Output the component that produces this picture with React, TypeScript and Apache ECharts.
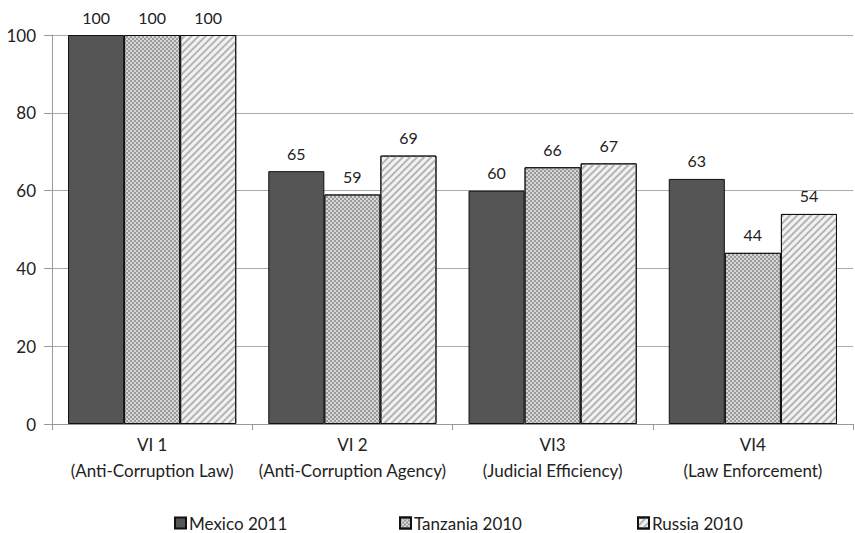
import React, { useEffect, useRef } from "react";
import * as echarts from "echarts";

const categories = [
  "VI 1\n(Anti-Corruption Law)",
  "VI 2\n(Anti-Corruption Agency)",
  "VI3\n(Judicial Efficiency)",
  "VI4\n(Law Enforcement)",
];
const mexico2011 = [100, 65, 60, 63];
const tanzania2010 = [100, 59, 66, 44];
const russia2010 = [100, 69, 67, 54];
const yTicks = [0, 20, 40, 60, 80, 100];

const FONT = "Lato, 'Open Sans', sans-serif";

export default function App() {
  const ref = useRef<HTMLDivElement>(null);
  useEffect(() => {
    document.body.style.margin = "0";
    const chart = echarts.init(ref.current!, null, { renderer: "svg" });
    const label = {
      show: true,
      position: "top" as const,
      distance: 10,
      color: "#222",
      fontSize: 16,
      fontFamily: FONT,
    };
    const border = { borderColor: "#111", borderWidth: 1 };
    const legendText = {
      fontSize: 17,
      lineHeight: 18,
      color: "#222",
      fontFamily: FONT,
      padding: [0, 0, 0, -2],
    };
    const legendBase = {
      top: 514,
      padding: 0,
      icon: "rect",
      itemWidth: 11,
      itemHeight: 11,
      textStyle: legendText,
    };
    chart.setOption({
      animation: false,
      backgroundColor: "#fff",
      grid: { left: 52, right: 2, top: 35, bottom: 109 },
      legend: [
        { ...legendBase, data: ["Mexico 2011"], left: 174 },
        { ...legendBase, data: ["Tanzania 2010"], left: 399 },
        { ...legendBase, data: ["Russia 2010"], left: 637 },
      ],
      xAxis: {
        type: "category",
        data: categories,
        axisLine: { lineStyle: { color: "#999" } },
        axisTick: { show: true, length: 6, lineStyle: { color: "#999" } },
        axisLabel: {
          color: "#222",
          fontSize: 17,
          fontFamily: FONT,
          lineHeight: 26,
          margin: 7,
          interval: 0,
        },
      },
      yAxis: {
        type: "value",
        min: 0,
        max: 100,
        interval: 20,
        axisLine: { show: true, lineStyle: { color: "#999" } },
        axisTick: { show: true, length: 8, lineStyle: { color: "#999" } },
        splitLine: { lineStyle: { color: "#aaa" } },
        axisLabel: {
          color: "#222",
          fontSize: 17,
          fontFamily: FONT,
          margin: 16,
          formatter: (v: number) => (yTicks.includes(v) ? String(v) : ""),
        },
      },
      series: [
        {
          name: "Mexico 2011",
          type: "bar",
          data: mexico2011,
          barGap: "0%",
          barCategoryGap: "16%",
          itemStyle: { color: "#555555", ...border },
          label,
        },
        {
          name: "Tanzania 2010",
          type: "bar",
          data: tanzania2010,
          barGap: "0%",
          barCategoryGap: "16%",
          itemStyle: {
            color: "#d6d6d6",
            ...border,
            decal: {
              symbol: "rect",
              symbolSize: 1,
              color: "#9a9a9a",
              backgroundColor: "#dcdcdc",
              dashArrayX: [
                [1.5, 1.5],
                [0, 1.5, 1.5, 0],
              ],
              dashArrayY: [1.5, 0],
              rotation: 0,
            },
          },
          label,
        },
        {
          name: "Russia 2010",
          type: "bar",
          data: russia2010,
          barGap: "0%",
          barCategoryGap: "16%",
          itemStyle: {
            color: "#f2f2f2",
            ...border,
            decal: {
              symbol: "rect",
              symbolSize: 1,
              color: "#b4b4b4",
              backgroundColor: "#f6f6f6",
              dashArrayX: [1, 0],
              dashArrayY: [1.2, 2.3],
              rotation: -Math.PI / 4,
            },
          },
          label,
        },
      ],
    });
    return () => chart.dispose();
  }, []);
  return <div ref={ref} style={{ width: 855, height: 533 }} />;
}
